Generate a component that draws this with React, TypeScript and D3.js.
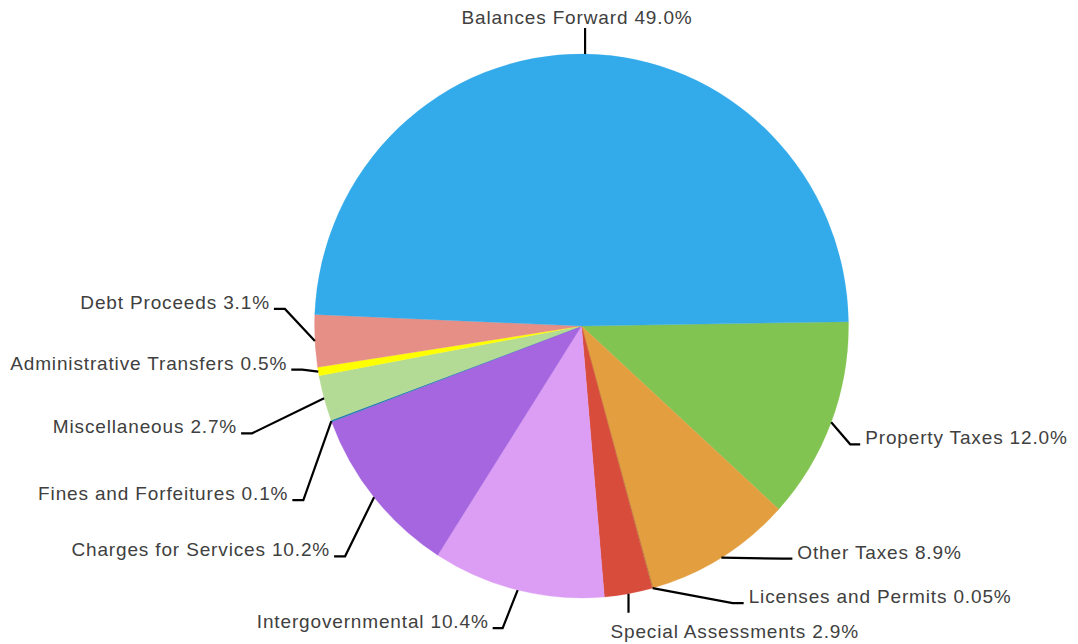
import React from "react";
import * as d3 from "d3";

// ---- data ----
const categories = [
  "Property Taxes",
  "Other Taxes",
  "Licenses and Permits",
  "Special Assessments",
  "Intergovernmental",
  "Charges for Services",
  "Fines and Forfeitures",
  "Miscellaneous",
  "Administrative Transfers",
  "Debt Proceeds",
  "Balances Forward",
];
const values = [12.0, 8.9, 0.05, 2.9, 10.4, 10.2, 0.1, 2.7, 0.5, 3.1, 49.0];
const valueLabels = ["12.0%", "8.9%", "0.05%", "2.9%", "10.4%", "10.2%", "0.1%", "2.7%", "0.5%", "3.1%", "49.0%"];

// ---- styles ----
const colors = [
  "#82C451",
  "#E39E40",
  "#B0762C",
  "#D84C3C",
  "#DC9EF5",
  "#A566E0",
  "#2A7FB0",
  "#B4DB95",
  "#FFFF00",
  "#E68F86",
  "#33AAEA",
];

// ---- label layout: elbow offset from slice anchor (dx, dy), horizontal segment length, text side ----
type Lay = { dx: number; dy: number; h: number; side: "left" | "right" | "top" | "bottom"; tdx?: number; tdy?: number };
const labelLayout: Lay[] = [
  { dx: 19, dy: 22, h: 10, side: "right" },
  { dx: 61, dy: 1, h: 10, side: "right" },
  { dx: 80, dy: 15, h: 11, side: "right" },
  { dx: 0, dy: 19, h: 0, side: "bottom", tdx: -18, tdy: 25 },
  { dx: -15, dy: 38, h: 10, side: "left" },
  { dx: -29, dy: 59, h: 11, side: "left" },
  { dx: -28, dy: 79, h: 11, side: "left" },
  { dx: -72, dy: 35, h: 11, side: "left" },
  { dx: -16, dy: -2, h: 11, side: "left" },
  { dx: -30, dy: -32, h: 11, side: "left" },
  { dx: 0, dy: -26, h: 0, side: "top", tdx: -8, tdy: -4 },
];

const W = 1078;
const H = 644;
const CX = 581.5;
const CY = 326;
const R = 267;
const SY = 272 / 267;
const START = (89.1 * Math.PI) / 180;

export default function App() {
  const items = categories.map((c, i) => ({ c, v: values[i], i }));
  const pie = d3
    .pie<any>()
    .value((d) => d.v)
    .sort(null)
    .startAngle(START)
    .endAngle(START + 2 * Math.PI);
  const arcs = pie(items);
  const arc = d3.arc<any>().innerRadius(0).outerRadius(R);

  const font = "'Liberation Sans', Arial, sans-serif";

  return (
    <svg width={W} height={H} style={{ position: "absolute", left: 0, top: 0, background: "#fff" }}>
      <g transform={`translate(${CX},${CY}) scale(1,${SY})`}>
        {arcs.map((a, k) => (
          <path key={k} d={arc(a) as string} fill={colors[a.data.i]} stroke={colors[a.data.i]} strokeWidth={0.3} />
        ))}
      </g>
      {arcs.map((a, k) => {
        const i = a.data.i;
        const mid = (a.startAngle + a.endAngle) / 2;
        const ax = CX + R * Math.sin(mid);
        const ay = CY - R * SY * Math.cos(mid);
        const L = labelLayout[i];
        const ex = ax + L.dx;
        const ey = ay + L.dy;
        let hx = ex;
        let tx = ex;
        let ty = ey;
        let anchor: "start" | "end" | "middle" = "start";
        if (L.side === "right") {
          hx = ex + L.h;
          tx = hx + 5;
          anchor = "start";
        } else if (L.side === "left") {
          hx = ex - L.h;
          tx = hx - 4;
          anchor = "end";
        } else if (L.side === "bottom") {
          tx = ex + (L.tdx || 0);
          ty = ey + (L.tdy || 0);
          anchor = "start";
        } else {
          tx = ex + (L.tdx || 0);
          ty = ey + (L.tdy || 0);
          anchor = "middle";
        }
        const line = d3.line()([
          [ax, ay],
          [ex, ey],
          [hx, ey],
        ]);
        return (
          <g key={"l" + k}>
            <path d={line as string} fill="none" stroke="#000" strokeWidth={2.2} />
            <text
              x={tx}
              y={ty}
              textAnchor={anchor}
              fontFamily={font}
              fontSize={19}
              letterSpacing={0.85}
              fill="#404040"
            >
              {`${categories[i]} ${valueLabels[i]}`}
            </text>
          </g>
        );
      })}
    </svg>
  );
}
